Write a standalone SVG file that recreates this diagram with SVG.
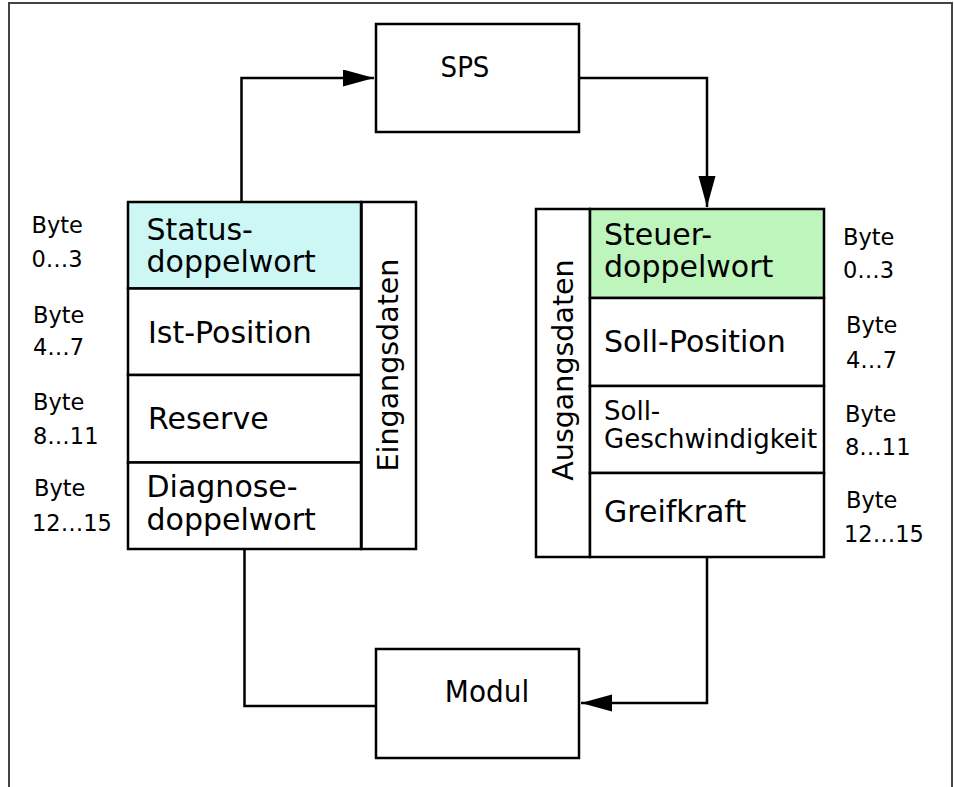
<svg xmlns="http://www.w3.org/2000/svg" width="954" height="787" viewBox="0 0 954 787">
<style>
.box{fill:#fff;stroke:#000;stroke-width:2.5}
.t{font-family:"DejaVu Sans",sans-serif;font-size:30px;fill:#000}
.small{font-size:26px}
.rot{font-size:28.5px}
.c{font-family:"DejaVu Sans Condensed","DejaVu Sans",sans-serif;fill:#000}
.b{font-family:"DejaVu Sans",sans-serif;font-size:22.5px;fill:#000}
.line{fill:none;stroke:#000;stroke-width:2.5}
</style>
<defs>
<marker id="arr" markerUnits="userSpaceOnUse" markerWidth="32" markerHeight="18" refX="31" refY="8.5" orient="auto">
<path d="M0,0 L31,8.5 L0,17 z" fill="#000"/>
</marker>
</defs>
<rect width="954" height="787" fill="#fff"/>
<path d="M9,790 V3 H952 V790" fill="none" stroke="#444" stroke-width="2"/>

<g id="connectors">
<path class="line" d="M241.5,202 V78 H374" marker-end="url(#arr)"/>
<path class="line" d="M579,78 H707 V207" marker-end="url(#arr)"/>
<path class="line" d="M707,557 V703 H581" marker-end="url(#arr)"/>
<path class="line" d="M244.5,549 V706 H376"/>
</g>

<g id="sps">
<rect class="box" x="376" y="24" width="203" height="108"/>
<text class="c" x="465" y="77" style="font-size:29px" text-anchor="middle">SPS</text>
</g>

<g id="modul">
<rect class="box" x="376" y="649" width="203" height="109"/>
<text class="c" x="487" y="702" style="font-size:31px" text-anchor="middle">Modul</text>
</g>

<g id="eingangsdaten">
<rect class="box" x="361.5" y="202" width="54.5" height="347"/>
<text class="t rot" text-anchor="middle" transform="translate(398,365) rotate(-90)">Eingangsdaten</text>
</g>

<g id="statusdoppelwort">
<rect class="box" x="128" y="202" width="233" height="86.5" style="fill:#cdf7f4"/>
<text class="t" x="146.5" y="240">Status-</text>
<text class="t" x="146.5" y="272">doppelwort</text>
</g>
<g id="ist-position">
<rect class="box" x="128" y="288.5" width="233" height="86.5"/>
<text class="t" x="148" y="343">Ist-Position</text>
</g>
<g id="reserve">
<rect class="box" x="128" y="375" width="233" height="87.5"/>
<text class="t" x="148" y="429">Reserve</text>
</g>
<g id="diagnosedoppelwort">
<rect class="box" x="128" y="462.5" width="233" height="86.5"/>
<text class="t" x="146.5" y="497">Diagnose-</text>
<text class="t" x="146.5" y="530">doppelwort</text>
</g>

<g id="bytes-left">
<text class="b" x="31.5" y="233">Byte</text>
<text class="b" x="31.5" y="267">0…3</text>
<text class="b" x="33" y="323">Byte</text>
<text class="b" x="33" y="355">4…7</text>
<text class="b" x="33" y="410">Byte</text>
<text class="b" x="33" y="444">8…11</text>
<text class="b" x="34" y="496">Byte</text>
<text class="b" x="32" y="531">12…15</text>
</g>

<g id="ausgangsdaten">
<rect class="box" x="536" y="209" width="54" height="348"/>
<text class="t rot" text-anchor="middle" transform="translate(573,370) rotate(-90)">Ausgangsdaten</text>
</g>

<g id="steuerdoppelwort">
<rect class="box" x="590" y="209" width="234" height="89" style="fill:#bdf5bc"/>
<text class="t" x="604" y="245">Steuer-</text>
<text class="t" x="604" y="277">doppelwort</text>
</g>
<g id="soll-position">
<rect class="box" x="590" y="298" width="234" height="88"/>
<text class="t" x="604" y="352">Soll-Position</text>
</g>
<g id="soll-geschwindigkeit">
<rect class="box" x="590" y="386" width="234" height="87"/>
<text class="t small" x="604" y="420">Soll-</text>
<text class="t small" x="604" y="448">Geschwindigkeit</text>
</g>
<g id="greifkraft">
<rect class="box" x="590" y="473" width="234" height="84"/>
<text class="t" x="604" y="522">Greifkraft</text>
</g>

<g id="bytes-right">
<text class="b" x="843" y="245">Byte</text>
<text class="b" x="843" y="278">0…3</text>
<text class="b" x="846" y="333">Byte</text>
<text class="b" x="846" y="368">4…7</text>
<text class="b" x="845" y="422">Byte</text>
<text class="b" x="845" y="455">8…11</text>
<text class="b" x="846" y="508">Byte</text>
<text class="b" x="844" y="542">12…15</text>
</g>
</svg>
